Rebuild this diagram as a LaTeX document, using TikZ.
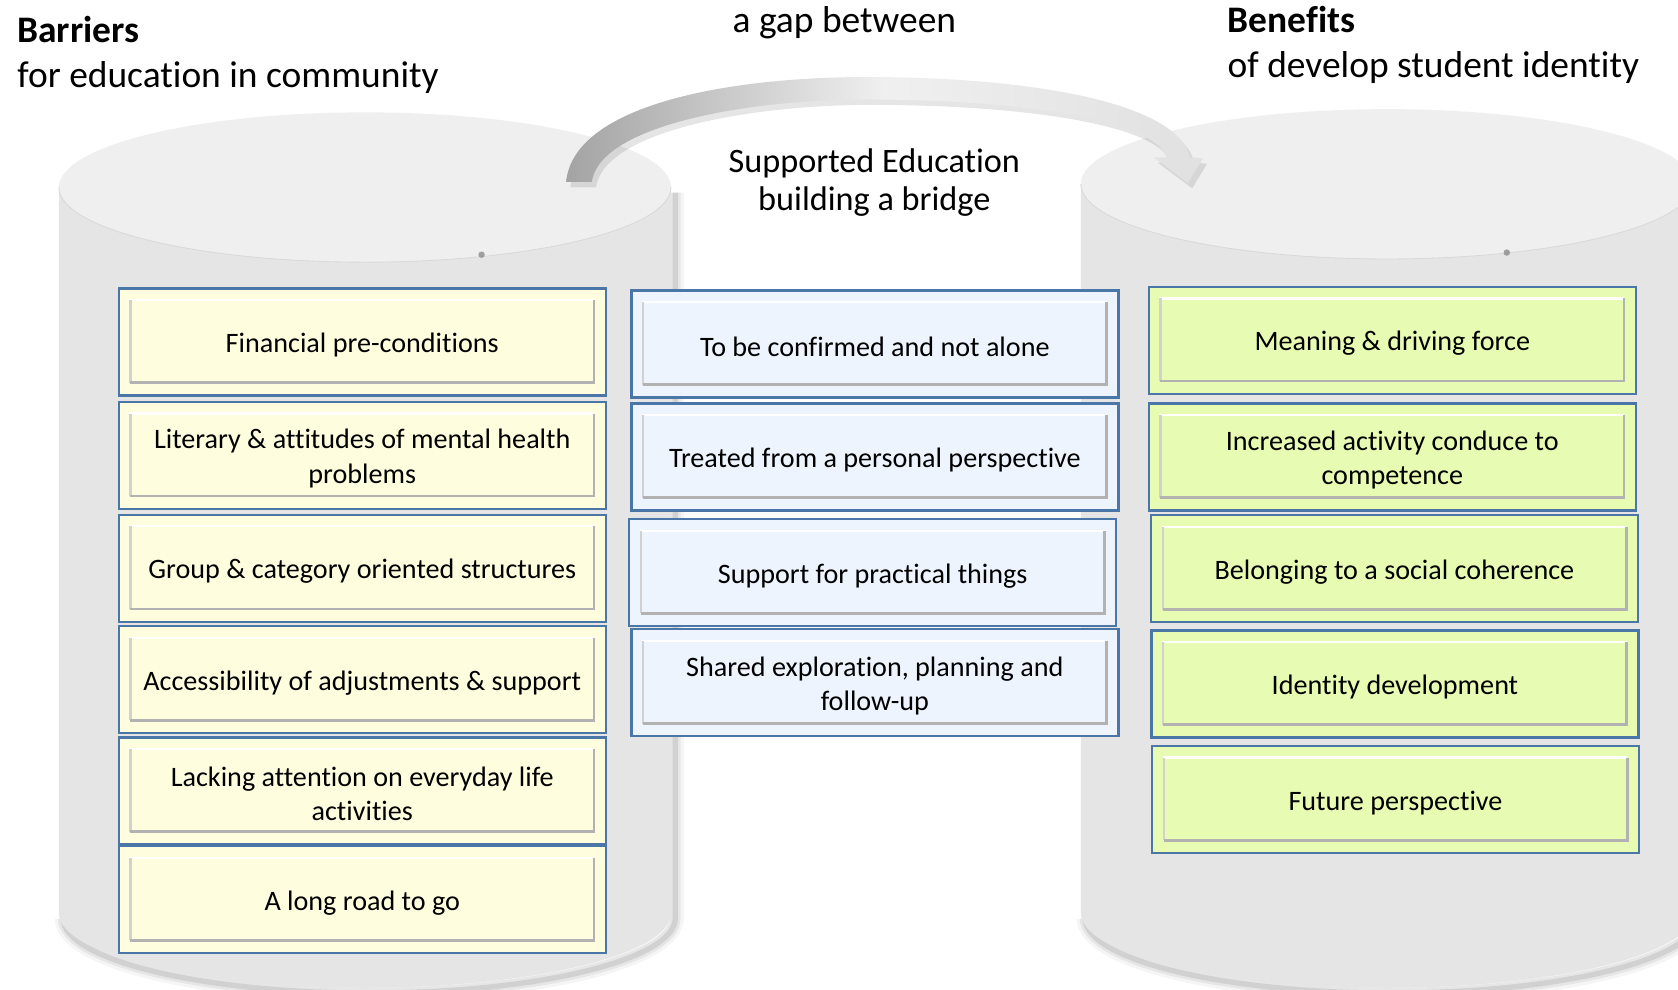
\documentclass[tikz,border=0pt]{standalone}
\usepackage{fontspec}
\setmainfont{Carlito}[RawFeature=-liga]
\usetikzlibrary{calc}
\definecolor{cyl}{HTML}{E5E5E5}
\definecolor{cyltop}{HTML}{EFEFEF}
\definecolor{yel}{HTML}{FEFEDF}
\definecolor{blu}{HTML}{EEF4FE}
\definecolor{grn}{HTML}{E8FBB2}
\definecolor{bord}{HTML}{4A76A8}
\tikzset{
  cell/.style={draw=bord, line width=2.2pt, minimum width=455pt, minimum height=100pt,
    inner sep=0pt},
  celltext/.style={inner sep=0pt, align=center, font=\fontsize{26.3}{32}\selectfont},
  barcell/.style={cell, fill=yel},
  supcell/.style={cell, fill=blu},
  bencell/.style={cell, fill=grn},
  title/.style={font=\fontsize{35}{42}\selectfont, inner sep=0pt},
  midtitle/.style={font=\fontsize{32}{36}\selectfont, inner sep=0pt},
}
\newcommand\bevel[1]{%
  \draw[white, line width=2pt] ($(#1.south west)+(12,-13)$) |- ($(#1.north east)+(-12,12)$);
  \draw[black!18, line width=2pt] ($(#1.south west)+(12,-13)$) -- ($(#1.north west)+(12,12)$);
  \draw[black!30, line width=2.5pt] ($(#1.north east)+(-12,12)$) |- ($(#1.south west)+(12,-13)$);
}
\newcommand\cellbox[4]{% style, name, position, text
  \node[#1] (#2) at (#3) {};
  \bevel{#2}
  \node[celltext] (#2-t) at ($(#2)+(0,3)$) {#4};
}
\newcommand\drawcyl[4]{% cx, top cy, bottom cy, name
  \begin{scope}[shift={(4,5)}]
    \foreach \w/\o in {16/0.04,10/0.06,5/0.09}{
      \draw[black, opacity=\o, line width=\w pt] (#1+286,#2) -- (#1+286,#3)
        arc[start angle=0, end angle=180, x radius=286, y radius=70];
    }
  \end{scope}
  \fill[cyl] (#1-286,#2) -- (#1-286,#3)
     arc[start angle=180, end angle=0, x radius=286, y radius=70] -- (#1+286,#2) -- cycle;
  \fill[cyltop] (#1,#2) ellipse[x radius=286, y radius=70];
  \draw[white!85!black, line width=0.8pt] (#1-286,#2) arc[start angle=180, end angle=0, x radius=286, y radius=70];
  \coordinate (#4) at (#1,#2);
}
\begin{document}
\begin{tikzpicture}[x=1pt,y=-1pt]
\clip (0,0) rectangle (1568,925);
\fill[white] (0,0) rectangle (1568,925);

% cylinders
\drawcyl{341}{175}{853}{cylL}
\drawcyl{1296}{172}{853}{cylR}
\fill[black!45, opacity=.8] (450,238) circle[radius=3];
\fill[black!45, opacity=.8] (1408,236) circle[radius=3];

% curved arrow
\begin{scope}[shift={(4,5)}]
\fill[black, opacity=.10]
  (529,170) .. controls (536,98) and (680,72) .. (810,72)
  .. controls (960,72) and (1100,95) .. (1112,147)
  -- (1124,148) -- (1110,171) -- (1078,147) -- (1090,147)
  .. controls (1078,110) and (945,93) .. (810,93)
  .. controls (695,93) and (560,118) .. (553,170) -- cycle;
\end{scope}
\shade[left color=black!36, right color=black!12, middle color=black!6]
  (529,170) .. controls (536,98) and (680,72) .. (810,72)
  .. controls (960,72) and (1100,95) .. (1112,147)
  -- (1124,148) -- (1110,171) -- (1078,147) -- (1090,147)
  .. controls (1078,110) and (945,93) .. (810,93)
  .. controls (695,93) and (560,118) .. (553,170) -- cycle;
\coordinate (arrS) at (541,170);
\coordinate (arrE) at (1110,171);

% titles
\node[title, anchor=base west] (tB) at (16,40) {\textbf{Barriers}};
\node[title, anchor=base west] (tB2) at (16,82) {for education in community};
\node[title, anchor=base west] (tF) at (1147,30) {\textbf{Benefits}};
\node[title, anchor=base west] (tF2) at (1147,72) {of develop student identity};
\node[title, anchor=base] (gap) at (789,30) {a gap between};
\node[midtitle, anchor=base] (sup1) at (817,161) {Supported Education};
\node[midtitle, anchor=base] (sup2) at (817,197) {building a bridge};

% left column
\cellbox{barcell}{b1}{338.5,319.5}{Financial pre-conditions}
\cellbox{barcell}{b2}{338.5,425.5}{Literary \& attitudes of mental health\\problems}
\cellbox{barcell}{b3}{338.5,531}{Group \& category oriented structures}
\cellbox{barcell}{b4}{338.5,635}{Accessibility of adjustments \& support}
\cellbox{barcell}{b5}{338.5,739}{Lacking attention on everyday life\\activities}
\cellbox{barcell}{b6}{338.5,840.5}{A long road to go}

% middle column
\cellbox{supcell}{s1}{817.5,321.5}{To be confirmed and not alone}
\cellbox{supcell}{s2}{817.5,427}{Treated from a personal perspective}
\cellbox{supcell}{s3}{815.5,535}{Support for practical things}
\cellbox{supcell}{s4}{817.5,638}{Shared exploration, planning and\\follow-up}

% right column
\cellbox{bencell}{e1}{1301,318}{Meaning \& driving force}
\cellbox{bencell}{e2}{1301,427}{Increased activity conduce to\\competence}
\cellbox{bencell}{e3}{1303,531.5}{Belonging to a social coherence}
\cellbox{bencell}{e4}{1303.5,639}{Identity development}
\cellbox{bencell}{e5}{1304,747}{Future perspective}
\end{tikzpicture}
\end{document}
